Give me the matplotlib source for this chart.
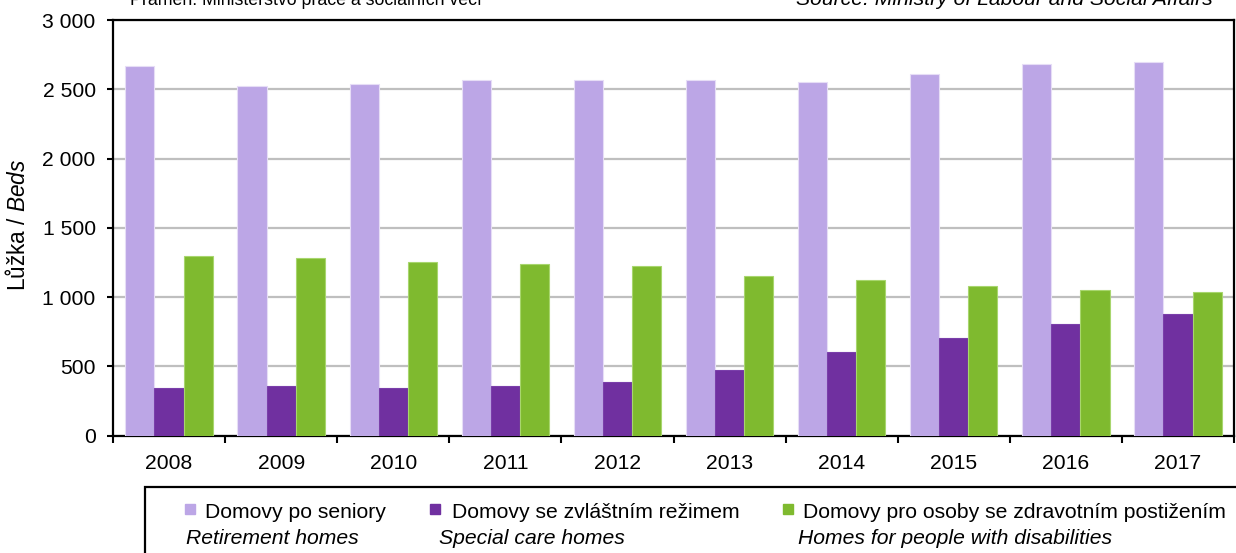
import matplotlib
matplotlib.use("Agg")
import matplotlib.pyplot as plt
from matplotlib.patches import Rectangle
from matplotlib.ticker import FuncFormatter, FixedLocator

plt.rcParams["font.family"] = ["Liberation Sans", "DejaVu Sans"]
plt.rcParams["mathtext.fontset"] = "custom"
plt.rcParams["mathtext.it"] = "Liberation Sans:italic"
plt.rcParams["mathtext.rm"] = "Liberation Sans"

years = ["2008", "2009", "2010", "2011", "2012", "2013", "2014", "2015", "2016", "2017"]
retirement = [2668, 2523, 2535, 2564, 2564, 2564, 2550, 2610, 2682, 2697]
special_care = [344, 359, 344, 359, 388, 475, 605, 707, 808, 878]
disabilities = [1296, 1280, 1251, 1236, 1222, 1150, 1121, 1077, 1048, 1034]

series_cz = ["Domovy po seniory", "Domovy se zvláštním režimem",
             "Domovy pro osoby se zdravotním postižením"]
series_en = ["Retirement homes", "Special care homes",
             "Homes for people with disabilities"]
colors = ["#BCA6E6", "#7030A0", "#7FBA2F"]
edges = ["#E6DDF6", "#7A3FAA", "#A8D66E"]

FS = 15.2

W, H = 1236, 553
fig = plt.figure(figsize=(W / 100, H / 100), dpi=100)
ax = fig.add_axes([113 / W, 1 - 435.5 / H, (1234 - 113) / W, (435.5 - 20) / H])

x = list(range(len(years)))
bw = 0.26
for k, vals in enumerate([retirement, special_care, disabilities]):
    ax.bar([i + (k - 1) * bw for i in x], vals, width=bw, color=colors[k],
           edgecolor=edges[k], linewidth=0.8, zorder=3)

ax.set_xlim(-0.5, len(years) - 0.5)
ax.set_ylim(0, 3000)

ax.yaxis.set_major_locator(FixedLocator(range(0, 3001, 500)))
ax.yaxis.set_major_formatter(FuncFormatter(lambda v, p: f"{int(v):,}".replace(",", " ")))
ax.grid(axis="y", color="#BFBFBF", linewidth=1.6, zorder=0)
ax.set_axisbelow(True)

# category boundaries carry the tick marks, labels sit at the centres
ax.set_xticks([i - 0.5 for i in range(len(years) + 1)])
ax.set_xticklabels([])
ax.set_xticks(x, minor=True)
ax.set_xticklabels(years, minor=True)
ax.tick_params(axis="x", which="major", direction="out", length=5, width=1.5, color="black")
ax.tick_params(axis="x", which="minor", length=0, pad=13, labelsize=FS)
ax.tick_params(axis="y", direction="out", length=4.5, width=1.5, labelsize=FS, pad=8)

for s in ax.spines.values():
    s.set_linewidth(1.6)
    s.set_color("black")

fig.text(18 / W, 1 - 225 / H, r"Lůžka / $\it{Beds}$", rotation=90,
         ha="center", va="center", fontsize=16.3)

# source lines at the top edge
fig.text(130 / W, 1 - 5 / H, "Pramen: Ministerstvo práce a sociálních věcí",
         ha="left", va="baseline", fontsize=12.8)
fig.text(1213 / W, 1 - 5 / H, "Source: Ministry of Labour and Social Affairs",
         ha="right", va="baseline", fontsize=15.2, style="italic")

# legend box
fig.patches.append(Rectangle((145 / W, -0.05), 1.2, (1 - 487 / H) + 0.05,
                             transform=fig.transFigure, fill=False,
                             edgecolor="black", linewidth=1.6))
marker_x = [185, 430, 783]
cz_x = [205, 452, 803]
en_x = [186, 439, 798]
for k in range(3):
    fig.patches.append(Rectangle((marker_x[k] / W, 1 - 514 / H), 10 / W, 10 / H,
                                 transform=fig.transFigure, color=colors[k]))
    fig.text(cz_x[k] / W, 1 - 512 / H, series_cz[k], ha="left", va="center",
             fontsize=FS)
    fig.text(en_x[k] / W, 1 - 539 / H, series_en[k], ha="left", va="center",
             fontsize=FS, style="italic")

fig.savefig("out.png", dpi=100)
